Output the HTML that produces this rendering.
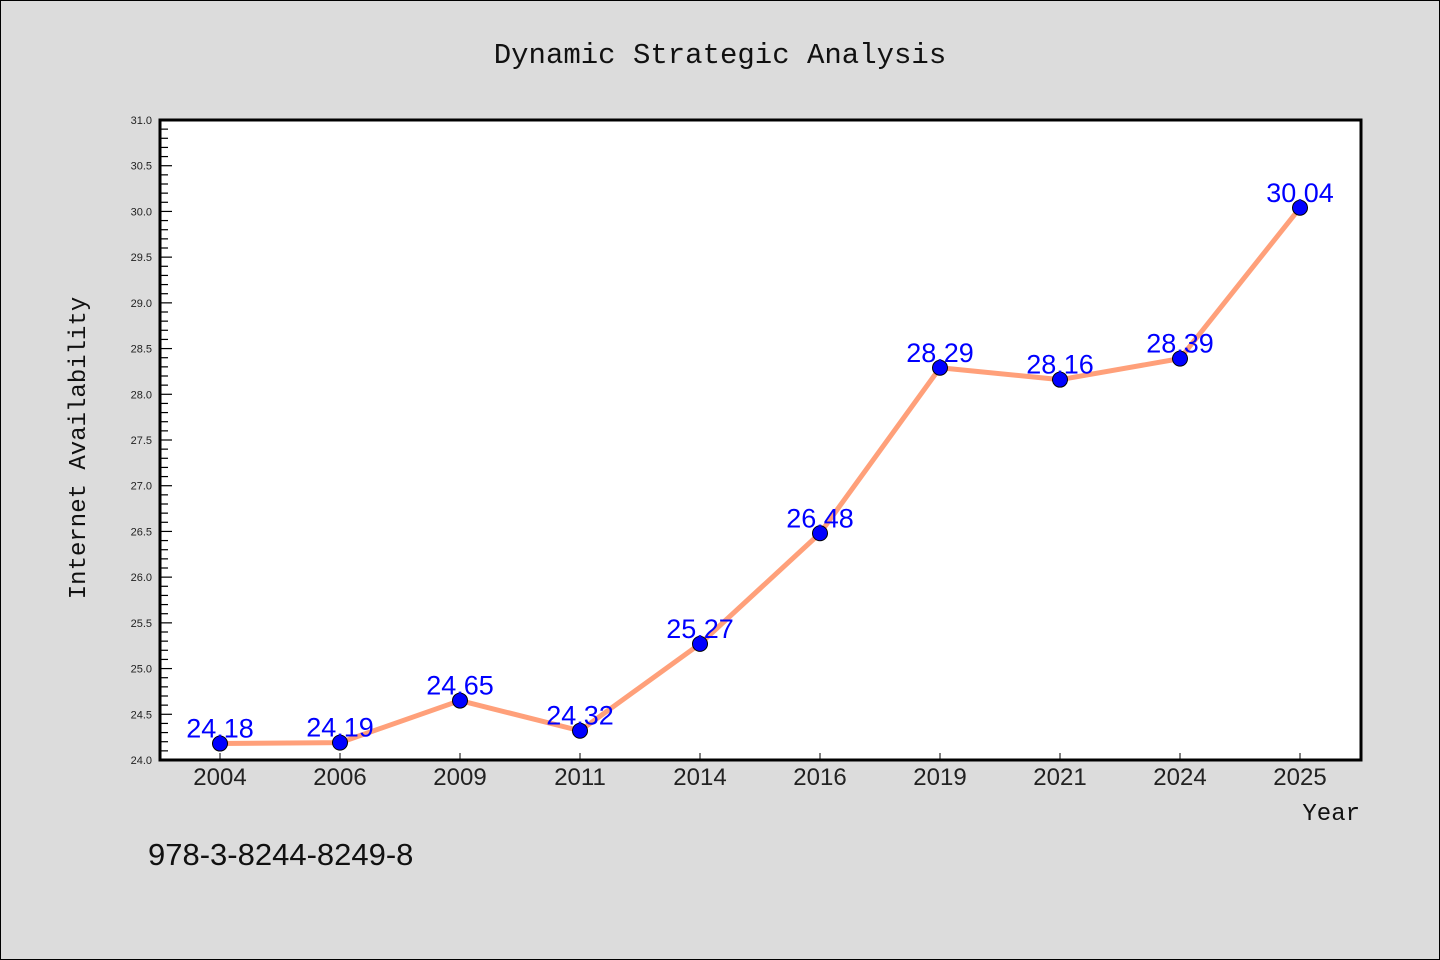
<!DOCTYPE html>
<html><head><meta charset="utf-8"><style>
html,body{margin:0;padding:0;background:#dcdcdc;}
svg{display:block;}
text{font-family:"WenQuanYi Zen Hei","Liberation Sans",sans-serif;}
.mono{font-family:"WenQuanYi Zen Hei Mono","Liberation Mono",monospace;}
</style></head><body>
<svg id="chart" width="1440" height="960" xmlns="http://www.w3.org/2000/svg">
<rect x="0.5" y="0.5" width="1439" height="959" fill="#dcdcdc" stroke="#000" stroke-width="1"/>
<text class="mono" x="720" y="63" text-anchor="middle" font-size="29" fill="#111">Dynamic Strategic Analysis</text>
<rect x="160" y="120" width="1201" height="640" fill="#fff"/>
<g id="yticks"></g>
<g id="xticks"></g>
<g id="series"></g>
<rect x="160" y="120" width="1201" height="640" fill="none" stroke="#000" stroke-width="3"/>
<text class="mono" transform="translate(85,448) rotate(-90)" text-anchor="middle" font-size="24" fill="#111">Internet Availability</text>
<text class="mono" x="1360" y="820" text-anchor="end" font-size="24" fill="#111">Year</text>
<text x="148" y="865" font-size="31" fill="#111">978-3-8244-8249-8</text>
</svg>
<script>
const categories = ["2004","2006","2009","2011","2014","2016","2019","2021","2024","2025"];
const values = [24.18,24.19,24.65,24.32,25.27,26.48,28.29,28.16,28.39,30.04];
const yTickLabels = ["24.0","24.5","25.0","25.5","26.0","26.5","27.0","27.5","28.0","28.5","29.0","29.5","30.0","30.5","31.0"];
(function(){
const NS="http://www.w3.org/2000/svg";
const yMin=24, yMax=31, plotTop=120, plotBottom=760, plotLeft=160;
function yS(v){return plotBottom-(v-yMin)/(yMax-yMin)*(plotBottom-plotTop);}
function xS(i){return 220+i*(1300-220)/(categories.length-1);}
function mk(tag,attrs,parent){const e=document.createElementNS(NS,tag);for(const k in attrs)e.setAttribute(k,attrs[k]);parent.appendChild(e);return e;}
const yg=document.getElementById('yticks');
for(let m=0;m<=70;m++){const v=yMin+m*0.1;const y=yS(v);const major=m%5===0;
 const l=mk('line',{x1:plotLeft,x2:plotLeft+(major?12:8),y1:y,y2:y,stroke:'#000','stroke-width':1.2},yg);
 
 }
yTickLabels.forEach(t=>{const tx=mk('text',{x:152,y:yS(parseFloat(t))+4,'text-anchor':'end','font-size':11,fill:'#222'},yg);tx.textContent=t;
 
 });
const xg=document.getElementById('xticks');
categories.forEach((c,i)=>{const x=xS(i);
 const l=mk('line',{x1:x,x2:x,y1:plotBottom,y2:plotBottom-7,stroke:'#000','stroke-width':1},xg);
 
 
 const t=mk('text',{x:x,y:785,'text-anchor':'middle','font-size':24,fill:'#222'},xg);t.textContent=c;
 
 });
const sg=document.getElementById('series');
const pts=values.map((v,i)=>xS(i)+','+yS(v)).join(' ');
const pl=mk('polyline',{points:pts,fill:'none',stroke:'#ffa07a','stroke-width':5,'stroke-linejoin':'round'},sg);


values.forEach((v,i)=>{const c=mk('circle',{cx:xS(i),cy:yS(v),r:7.5,fill:'#0000ff',stroke:'#000','stroke-width':1},sg);
 
 
 const t=mk('text',{x:xS(i),y:yS(v)-6,'text-anchor':'middle','font-size':27,fill:'#0000ff'},sg);t.textContent=v.toFixed(2);
 
 });
})();
</script>
</body></html>
